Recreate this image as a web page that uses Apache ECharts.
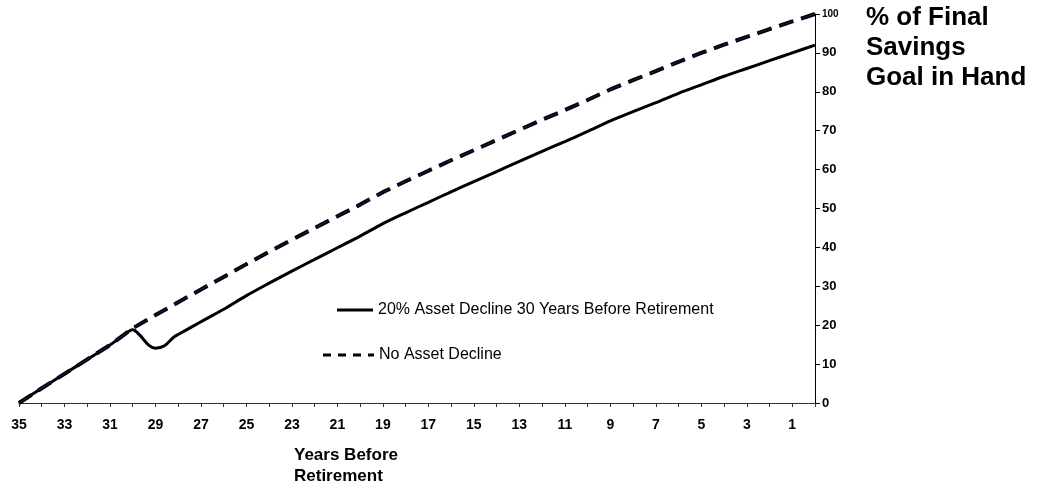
<!DOCTYPE html>
<html>
<head>
<meta charset="utf-8">
<title>Final savings goal</title>
<script src="https://cdn.jsdelivr.net/npm/echarts@6/dist/echarts.min.js"></script>
<style>
  html, body { margin: 0; padding: 0; background: #fff; }
  #main { width: 1037px; height: 486px; }
</style>
</head>
<body>
<div id="main"></div>
<script>
// years before retirement (x) and % of final savings goal (y)
var noDeclineYears = [35, 34, 33, 32, 31, 30, 29, 28, 27, 26, 25, 24, 23, 22, 21, 20, 19, 18,
                      17, 16, 15, 14, 13, 12, 11, 10, 9, 8, 7, 6, 5, 4, 3, 2, 1, 0];
var noDeclineVals  = [0, 3.8, 7.5, 11.2, 14.9, 19.2, 22.6, 25.9, 29.2, 32.4, 35.7, 38.9, 42.0, 45.0,
                      48.0, 51.0, 54.2, 57.0, 59.7, 62.4, 65.0, 67.6, 70.2, 72.8, 75.3, 77.9,
                      80.6, 83.0, 85.3, 87.7, 90.0, 92.1, 94.1, 96.1, 98.1, 100];

var declineYears = [35, 34, 33, 32, 31, 30.5, 30, 29.7, 29.3, 29, 28.6, 28.2, 28, 27, 26, 25, 24,
                    23, 22, 21, 20, 19, 18, 17, 16, 15, 14, 13, 12, 11, 10, 9, 8, 7, 6, 5, 4,
                    3, 2, 1, 0];
var declineVals  = [0, 3.8, 7.5, 11.2, 14.9, 17.0, 18.8, 17.5, 14.9, 14.1, 14.7, 16.9, 17.6, 20.9,
                    24.1, 27.6, 30.8, 33.9, 36.9, 39.9, 42.9, 46.1, 48.9, 51.6, 54.3, 56.9, 59.5,
                    62.1, 64.7, 67.2, 69.8, 72.5, 74.9, 77.2, 79.6, 81.8, 84.0, 86.0, 88.0, 90.0, 92.0];

var seriesNames = ['20% Asset Decline 30 Years Before Retirement', 'No Asset Decline'];

function pairs(xs, ys) {
    var out = [];
    for (var i = 0; i < xs.length; i++) out.push([xs[i], ys[i]]);
    return out;
}

var myChart = echarts.init(document.getElementById('main'));
var font = 'Liberation Sans, Arial, sans-serif';

var option = {
    backgroundColor: '#fff',
    animation: false,
    textStyle: { fontFamily: font },
    title: [{
        text: '% of Final\nSavings\nGoal in Hand',
        left: 866, top: 3, padding: 0,
        textStyle: { fontSize: 26, fontWeight: 'bold', color: '#000', lineHeight: 30, fontFamily: font }
    }, {
        text: 'Years Before\nRetirement',
        left: 294, top: 445, padding: 0,
        textStyle: { fontSize: 17, fontWeight: 'bold', color: '#000', lineHeight: 21, fontFamily: font }
    }],
    // legend sits inside the plot, one block per series
    legend: [{
        data: [seriesNames[0]],
        left: 337, top: 302,
        icon: 'path://M0,0h36v3h-36z',
        itemWidth: 36, itemHeight: 3, padding: 0, itemGap: 0,
        textStyle: { fontSize: 16, color: '#000', fontFamily: font }
    }, {
        data: [seriesNames[1]],
        left: 323, top: 347,
        icon: 'path://M0,0h8v3h-8z M15,0h8v3h-8z M30,0h8v3h-8z M45,0h6v3h-6z',
        itemWidth: 51, itemHeight: 3, padding: 0, itemGap: 0,
        textStyle: { fontSize: 16, color: '#000', fontFamily: font }
    }],
    grid: { left: 19, right: 222, top: 14, bottom: 83 },
    xAxis: {
        type: 'value',
        inverse: true,
        min: 0, max: 35, interval: 1,
        axisLine: { show: true, lineStyle: { color: '#333', width: 1 } },
        axisTick: { show: true, length: 4, lineStyle: { color: '#333' } },
        splitLine: { show: false },
        axisLabel: {
            margin: 15,
            fontSize: 14, fontWeight: 'bold', color: '#000', fontFamily: font,
            formatter: function (v) { return v % 2 === 1 ? String(v) : ''; }
        }
    },
    yAxis: {
        type: 'value',
        position: 'right',
        min: 0, max: 100, interval: 10,
        axisLine: { show: true, lineStyle: { color: '#000', width: 1 } },
        axisTick: { show: true, length: 5, lineStyle: { color: '#000' } },
        splitLine: { show: false },
        axisLabel: {
            margin: 7,
            fontSize: 13, fontWeight: 'bold', color: '#000', fontFamily: font,
            formatter: function (v) { return v === 100 ? '{s|100}' : String(v); },
            rich: { s: { fontSize: 10, fontWeight: 'bold', color: '#000', fontFamily: font } }
        }
    },
    series: [{
        name: seriesNames[0],
        type: 'line',
        data: pairs(declineYears, declineVals),
        showSymbol: false,
        symbol: 'none',
        smooth: 0.3,
        lineStyle: { color: '#000', width: 3 },
        itemStyle: { color: '#000' },
        z: 3
    }, {
        name: seriesNames[1],
        type: 'line',
        data: pairs(noDeclineYears, noDeclineVals),
        showSymbol: false,
        symbol: 'none',
        lineStyle: { color: '#000', width: 4, type: [15, 8] },
        itemStyle: { color: '#000' },
        z: 2
    }, {
        name: 'inner',
        type: 'line',
        data: pairs(noDeclineYears, noDeclineVals),
        showSymbol: false,
        symbol: 'none',
        silent: true,
        lineStyle: { color: '#1a1a66', width: 1, type: [15, 8] },
        z: 4
    }]
};

myChart.setOption(option);
</script>
</body>
</html>
